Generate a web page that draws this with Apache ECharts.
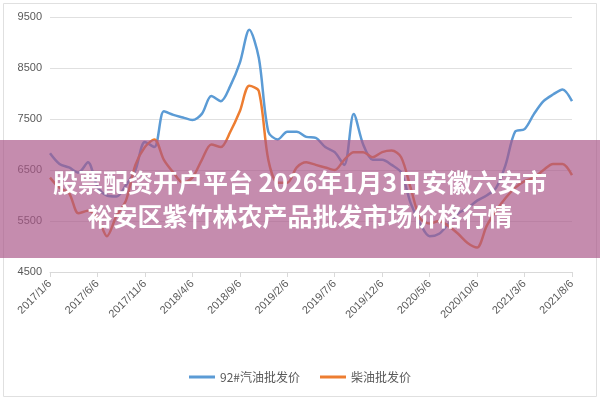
<!DOCTYPE html>
<html>
<head>
<meta charset="utf-8">
<script src="https://cdn.jsdelivr.net/npm/echarts@6/dist/echarts.min.js"></script>
<style>
  html, body { margin: 0; padding: 0; background: #fff; }
  #chart { width: 600px; height: 400px; }
</style>
</head>
<body>
<div id="chart"></div>
<script>
var years = [2017, 2018, 2019, 2020, 2021];
var categories = [];
for (var y = 0; y < years.length; y++) {
    for (var m = 1; m <= 12; m++) {
        if (years[y] === 2021 && m > 8) break;
        categories.push(years[y] + '/' + m + '/6');
    }
}
var gasoline = [6830, 6620, 6550, 6450, 6650, 6170, 6000, 5980, 6200, 6500, 7050, 6950,
    7650, 7580, 7530, 7480, 7600, 7950, 7850, 8150, 8600, 9250, 8700, 7250,
    7100, 7250, 7250, 7150, 7130, 6950, 6850, 6600, 7600, 7000, 6700, 6700,
    6600, 6450, 5850, 5450, 5200, 5250, 5450, 5650, 5750, 5900, 6000, 6150,
    6600, 7250, 7300, 7600, 7850, 7980, 8080, 7850];
var diesel = [6350, 6150, 6050, 5650, 5700, 5580, 5200, 5600, 5900, 6600, 6950, 7100,
    6700, 6450, 6250, 6350, 6700, 7000, 6950, 7250, 7650, 8150, 8050, 6700,
    6250, 6250, 6550, 6650, 6600, 6550, 6500, 6700, 6850, 6850, 6750, 6850,
    6880, 6750, 6150, 5550, 5450, 5500, 5400, 5250, 5070, 4980, 5400, 5700,
    5950, 6150, 6280, 6350, 6500, 6620, 6620, 6400];
var seriesNames = ['92#汽油批发价', '柴油批发价'];
var titleLines = ['股票配资开户平台 2026年1月3日安徽六安市', '裕安区紫竹林农产品批发市场价格行情'];

var myChart = echarts.init(document.getElementById('chart'));
var option = {
    backgroundColor: '#fff',
    animation: false,
    legend: {
        data: seriesNames,
        bottom: 12,
        itemWidth: 26,
        itemHeight: 3,
        icon: 'rect',
        itemGap: 20,
        textStyle: { color: '#595959', fontSize: 12, fontFamily: 'Noto Sans CJK SC' }
    },
    grid: { left: 50, right: 28, top: 17, bottom: 128 },
    xAxis: {
        type: 'category',
        boundaryGap: false,
        data: categories,
        axisLine: { lineStyle: { color: '#d9d9d9' } },
        axisTick: { show: true, interval: 4, lineStyle: { color: '#d9d9d9' } },
        axisLabel: { interval: 4, rotate: 45, color: '#595959', fontSize: 11, margin: 10 }
    },
    yAxis: {
        type: 'value',
        min: 4500,
        max: 9500,
        interval: 1000,
        axisLine: { show: false },
        axisTick: { show: false },
        axisLabel: { color: '#595959', fontSize: 11, formatter: function (v) { return String(v); } },
        splitLine: { lineStyle: { color: '#e0e0e0' } }
    },
    series: [{
        name: seriesNames[0],
        type: 'line',
        smooth: 0.3,
        symbol: 'none',
        lineStyle: { width: 2.5, color: '#5b9bd5' },
        itemStyle: { color: '#5b9bd5' },
        data: gasoline
    }, {
        name: seriesNames[1],
        type: 'line',
        smooth: 0.3,
        symbol: 'none',
        lineStyle: { width: 2.5, color: '#ed7d31' },
        itemStyle: { color: '#ed7d31' },
        data: diesel
    }],
    graphic: [{
        type: 'rect',
        z: 100,
        shape: { x: 0, y: 140, width: 600, height: 118 },
        style: { fill: 'rgba(170,85,135,0.68)' }
    }, {
        type: 'text',
        z: 101,
        left: 'center',
        top: 170,
        style: { text: titleLines[0], fill: '#fff', font: 'bold 25px "Noto Sans CJK SC"' }
    }, {
        type: 'text',
        z: 101,
        left: 'center',
        top: 204,
        style: { text: titleLines[1], fill: '#fff', font: 'bold 25px "Noto Sans CJK SC"' }
    }, {
        type: 'rect',
        z: 99,
        shape: { x: 3.5, y: 3.5, width: 593, height: 393 },
        style: { fill: 'none', stroke: '#e0e0e0', lineWidth: 1 }
    }]
};
myChart.setOption(option);
</script>
</body>
</html>
